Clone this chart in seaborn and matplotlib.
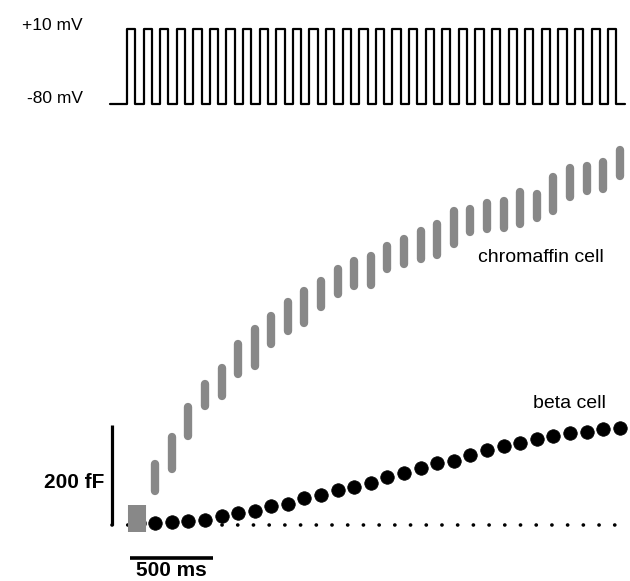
import matplotlib
matplotlib.use("Agg")
import matplotlib.pyplot as plt
import seaborn as sns
import pandas as pd

sns.set_theme(style="white")
plt.rcParams["font.family"] = ["Liberation Sans", "DejaVu Sans"]
plt.rcParams["text.color"] = "black"

# ---- stimulation protocol (ms, mV) ----
pulse_onsets_ms = [0, 100, 200, 300, 400, 500, 600, 700, 800, 900,
                   1000, 1100, 1200, 1300, 1400, 1500, 1600, 1700, 1800, 1900,
                   2000, 2100, 2200, 2300, 2400, 2500, 2600, 2700, 2800, 2900]
pulse_duration_ms = 50
holding_mv = -80
step_mv = 10
trace_start_ms = -100
trace_end_ms = 3000

# ---- capacitance samples (fF above baseline) ----
sample_times_ms = [70, 170, 270, 370, 470, 570, 670, 770, 870, 970,
                   1070, 1170, 1270, 1370, 1470, 1570, 1670, 1770, 1870, 1970,
                   2070, 2170, 2270, 2370, 2470, 2570, 2670, 2770, 2870, 2970]
chromaffin_low_fF = [-14, 60, 104, 170, 230, 250, 294, 310, 354, 380,
                     396, 428, 454, 470, 472, 504, 514, 524, 532, 554,
                     578, 584, 586, 594, 606, 620, 648, 660, 664, 690]
chromaffin_high_fF = [40, 130, 184, 244, 290, 322, 370, 400, 426, 454,
                      476, 496, 520, 536, 546, 566, 580, 596, 610, 636,
                      640, 652, 656, 674, 670, 704, 722, 726, 734, 758]
beta_fF = [4, 4, 6, 8, 10, 18, 24, 28, 38, 42,
           54, 60, 70, 76, 84, 96, 104, 114, 124, 128,
           140, 150, 158, 164, 172, 178, 184, 186, 192, 194]

# scale bars
cap_bar_fF = 200
time_bar_ms = 500

# ---- build the voltage step trace ----
vt = [trace_start_ms]
vv = [holding_mv]
for on in pulse_onsets_ms:
    vt += [on, on + pulse_duration_ms]
    vv += [step_mv, holding_mv]
vt.append(trace_end_ms)
vv.append(holding_mv)
volt = pd.DataFrame({"t": vt, "V": vv})

caps = pd.DataFrame({"t": sample_times_ms, "low": chromaffin_low_fF,
                     "high": chromaffin_high_fF, "beta": beta_fF})

fig = plt.figure(figsize=(6.3, 5.81), dpi=100)
fig.patch.set_facecolor("white")
ax = fig.add_axes([0, 0, 1, 1])
axv = fig.add_axes([0, 1 - 125 / 581, 1, 125 / 581])

XLIM = (-765, 3032)
ax.set_xlim(*XLIM)
ax.set_ylim(-112, 1050)
axv.set_xlim(*XLIM)
axv.set_ylim(-105, 44)

# voltage protocol
sns.lineplot(data=volt, x="t", y="V", ax=axv, color="black", lw=1.6,
             drawstyle="steps-post", estimator=None, sort=False)
axv.text(-265, 14, "+10 mV", ha="right", va="center", fontsize=12.5,
         color="black")
axv.text(-265, -74, "-80 mV", ha="right", va="center", fontsize=12.5,
         color="black")

# dotted baseline
ax.plot([-90, trace_end_ms], [0, 0], color="black", lw=2.6,
        linestyle=(0, (0.05, 4.3)), dash_capstyle="round", zorder=1)

# beta cell
sns.scatterplot(data=caps, x="t", y="beta", ax=ax, s=95, color="black",
                edgecolor="black", linewidth=0.5, zorder=3, legend=False)

# chromaffin cell: vertical clusters of samples
r = 8.0
first = caps.iloc[:1]
rest = caps.iloc[1:]
ax.vlines(first["t"] - 8, first["low"], first["high"], colors="#888888",
          lw=13, capstyle="butt", zorder=4)
ax.vlines(rest["t"], rest["low"] + r, rest["high"] - r, colors="#888888",
          lw=6.0, capstyle="round", zorder=4)

ax.text(2495, 534, "chromaffin cell", ha="center", va="center", fontsize=14,
        color="black")
ax.text(2670, 242, "beta cell", ha="center", va="center", fontsize=14,
        color="black")

# scale bars
ax.plot([-90, -90], [0, cap_bar_fF], color="black", lw=2.3,
        solid_capstyle="butt")
ax.text(-133, 86, "200 fF", ha="right", va="center", fontsize=15,
        fontweight="bold", color="black")
ax.plot([20, 20 + time_bar_ms], [-66, -66], color="black", lw=2.6,
        solid_capstyle="butt")
ax.text(270, -90, "500 ms", ha="center", va="center", fontsize=15,
        fontweight="bold", color="black")

for a in (ax, axv):
    a.axis("off")

fig.savefig("out.png", dpi=100, facecolor="white")
